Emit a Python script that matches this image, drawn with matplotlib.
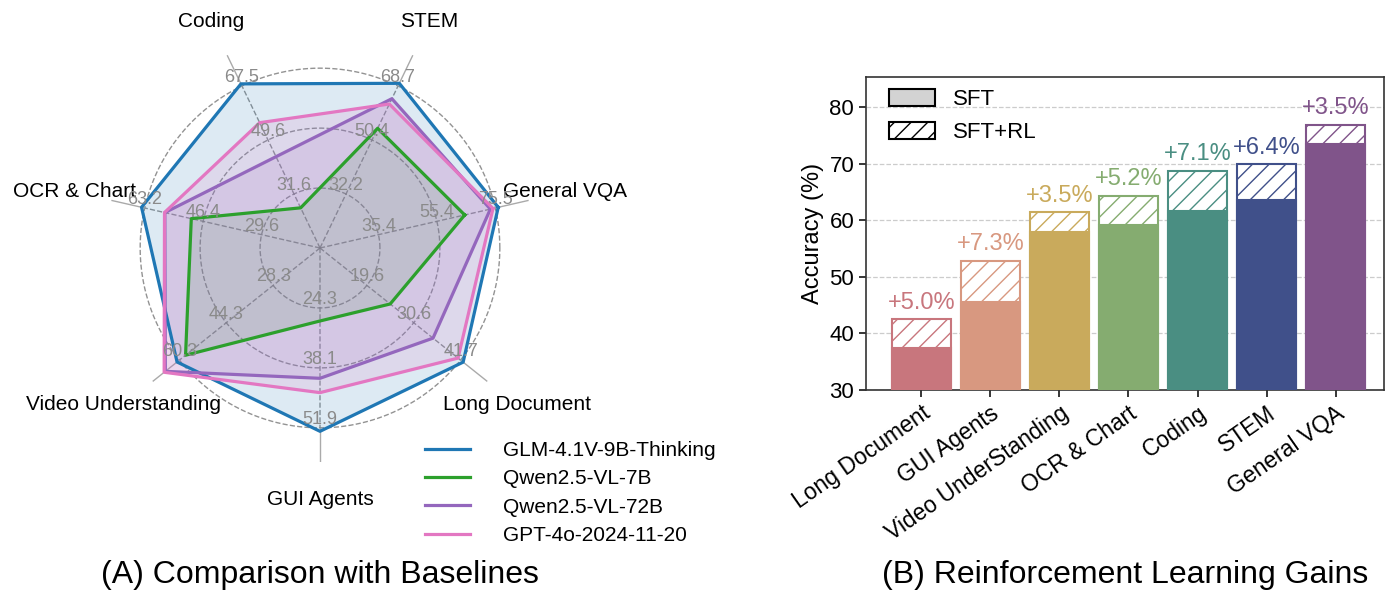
import numpy as np
import matplotlib
matplotlib.use("Agg")
import matplotlib.pyplot as plt
from matplotlib.patches import Patch

plt.rcParams['font.family'] = ['Liberation Sans', 'DejaVu Sans']
plt.rcParams['hatch.linewidth'] = 1.0

# ---------------- Radar data ----------------
radar_categories = ['General VQA', 'STEM', 'Coding', 'OCR & Chart',
                    'Video Understanding', 'GUI Agents', 'Long Document']
radar_ticks = [[35.4, 55.4, 75.5],
               [32.2, 50.4, 68.7],
               [31.6, 49.6, 67.5],
               [29.6, 46.4, 63.2],
               [28.3, 44.3, 60.3],
               [24.3, 38.1, 51.9],
               [19.6, 30.6, 41.7]]
model_names = ['GLM-4.1V-9B-Thinking', 'Qwen2.5-VL-7B', 'Qwen2.5-VL-72B', 'GPT-4o-2024-11-20']
glm_values = [76.5, 69.6, 68.2, 64.1, 61.1, 52.7, 42.3]
qwen7b_values = [65.0, 54.4, 27.0, 49.8, 58.2, 27.3, 25.1]
qwen72b_values = [73.8, 64.4, 44.0, 57.4, 65.1, 40.5, 35.2]
gpt4o_values = [74.7, 62.6, 55.3, 57.5, 65.5, 43.8, 41.1]
model_colors = ['#1f77b4', '#2ca02c', '#9467bd', '#e377c2']

# ---------------- Bar data ----------------
bar_categories = ['Long Document', 'GUI Agents', 'Video UnderStanding', 'OCR & Chart',
                  'Coding', 'STEM', 'General VQA']
sft_values = [37.5, 45.5, 57.9, 59.2, 61.6, 63.5, 73.4]
sft_rl_values = [42.5, 52.8, 61.4, 64.3, 68.7, 69.9, 76.9]
gain_labels = ['+5.0%', '+7.3%', '+3.5%', '+5.2%', '+7.1%', '+6.4%', '+3.5%']
bar_colors = ['#c8767d', '#d89880', '#c9aa5c', '#85ac70', '#4a8e82', '#40508a', '#80548a']

fig = plt.figure(figsize=(14, 6.08), dpi=100)

# ---------------- Radar ----------------
n = len(radar_categories)
angles = np.deg2rad(12.857 + np.arange(n) * 360.0 / n)
lo = [t[0] - (t[2] - t[0]) / 2.0 for t in radar_ticks]
hi = [t[2] for t in radar_ticks]

def normalize(vals):
    return [(v - l) / (h - l) for v, l, h in zip(vals, lo, hi)]

rmax = 1.19
axr = fig.add_axes([106 / 1400, 1 - 462 / 608, 428 / 1400, 428 / 608], projection='polar')
axr.set_ylim(0, rmax)
axr.grid(False)
axr.set_xticks([])
axr.set_yticks([])
axr.spines['polar'].set_visible(False)
axr.patch.set_alpha(0)

theta_c = np.linspace(0, 2 * np.pi, 400)
for k in (1, 2, 3):
    axr.plot(theta_c, np.full_like(theta_c, k / 3), ls='--', color='gray', lw=1.0, alpha=0.85, zorder=1)
for a in angles:
    axr.plot([a, a], [0, 1.0], ls='--', color='gray', lw=1.0, alpha=0.85, zorder=1)
    axr.plot([a, a], [1.0, rmax], ls='-', color='#aaaaaa', lw=1.0, zorder=1)

for a, ticks in zip(angles, radar_ticks):
    for k, t in enumerate(ticks):
        axr.text(a, (k + 1) / 3, f'{t}', ha='center', va='bottom', fontsize=13,
                 color='#8a8a8a', zorder=6)

for a, name in zip(angles, radar_categories):
    axr.text(a, 1.40, name, ha='center', va='center', fontsize=15, color='black')

all_vals = [glm_values, qwen7b_values, qwen72b_values, gpt4o_values]
for vals, name, col in zip(all_vals, model_names, model_colors):
    r = normalize(vals)
    r_c = r + r[:1]
    a_c = list(angles) + [angles[0]]
    axr.fill(a_c, r_c, color=col, alpha=0.15, zorder=2)
    axr.plot(a_c, r_c, color=col, lw=2.3, label=name, zorder=3)

fig.legend(*axr.get_legend_handles_labels(), loc='upper left',
           bbox_to_anchor=(425 / 1400, 1 - 441 / 608), frameon=False, fontsize=15,
           handlelength=2.15, handletextpad=1.6, labelspacing=0.45, borderpad=0,
           borderaxespad=0)

fig.text(320 / 1400, 1 - 575 / 608, '(A) Comparison with Baselines', ha='center', va='center',
         fontsize=23)

# ---------------- Bars ----------------
axb = fig.add_axes([866 / 1400, 1 - 390 / 608, 518 / 1400, 313 / 608])
x = np.arange(len(bar_categories))
width = 0.85
axb.bar(x, sft_rl_values, width=width, facecolor='white', edgecolor=bar_colors,
        hatch='//', linewidth=1.5, zorder=2)
axb.bar(x, sft_values, width=width, color=bar_colors, edgecolor=bar_colors,
        linewidth=1.5, zorder=3)
for xi, top, lab, col in zip(x, sft_rl_values, gain_labels, bar_colors):
    axb.annotate(lab, (xi, top), xytext=(0, 4), textcoords='offset points',
                 ha='center', va='bottom', fontsize=17, color=col)

axb.set_xlim(-0.8, 6.7)
axb.set_ylim(30, 85.3)
axb.set_yticks([30, 40, 50, 60, 70, 80])
axb.set_xticks(x)
axb.set_xticklabels(bar_categories, rotation=35, ha='right', rotation_mode='anchor', fontsize=16.5)
axb.tick_params(axis='y', labelsize=16, length=5, width=1.1, direction='out')
axb.tick_params(axis='x', length=5, width=1.1, direction='out')
axb.set_ylabel('Accuracy (%)', fontsize=17)
axb.yaxis.grid(True, ls='--', color='#cccccc', lw=0.9, zorder=0)
axb.set_axisbelow(True)
for s in axb.spines.values():
    s.set_color('#333333')
    s.set_linewidth(1.2)

handles = [Patch(facecolor='lightgray', edgecolor='black', linewidth=1.5, label='SFT'),
           Patch(facecolor='white', edgecolor='black', hatch='//', linewidth=1.5, label='SFT+RL')]
axb.legend(handles=handles, loc='upper left', bbox_to_anchor=(0.005, 1.025), frameon=False,
           fontsize=16, handlelength=2.1, handleheight=0.8, labelspacing=0.5)

fig.text(1125 / 1400, 1 - 575 / 608, '(B) Reinforcement Learning Gains', ha='center',
         va='center', fontsize=23)

fig.savefig('out.png', dpi=100)
